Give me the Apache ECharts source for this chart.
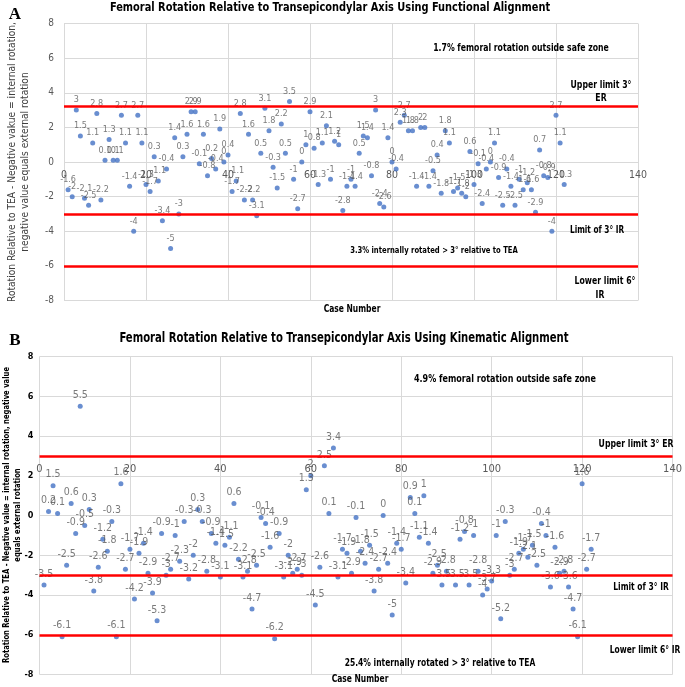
<!DOCTYPE html>
<html>
<head>
<meta charset="utf-8">
<script src="https://cdn.jsdelivr.net/npm/echarts@6/dist/echarts.min.js"></script>
<style>html,body{margin:0;padding:0;background:#fff}#c{width:685px;height:687px}</style>
</head>
<body>
<div id="c"></div>
<script>
// ---------- Data: Panel A (Functional Alignment) ----------
const casesA = [1,2,3,4,5,6,7,8,9,10,11,12,13,14,15,16,17,18,19,20,21,22,23,24,25,26,27,28,29,30,31,32,33,34,35,36,37,38,39,40,41,42,43,44,45,46,47,48,49,50,51,52,53,54,55,56,57,58,59,60,61,62,63,64,65,66,67,68,69,70,71,72,73,74,75,76,77,78,79,80,81,82,83,84,85,86,87,88,89,90,91,92,93,94,95,96,97,98,99,100,101,102,103,104,105,106,107,108,109,110,111,112,113,114,115,116,117,118,119,120,121,122];
const rotationA = [-1.6,-2,3,1.5,-2.1,-2.5,1.1,2.8,-2.2,0.1,1.3,0.1,0.1,2.7,1.1,-1.4,-4,2.7,1.1,-1.3,-1.7,0.3,-1.1,-3.4,-0.4,-5,1.4,-3,0.3,1.6,2.9,2.9,-0.1,1.6,-0.8,0.2,-0.4,1.9,0,0.4,-1.7,-1.1,2.8,-2.2,1.6,-2.2,-3.1,0.5,3.1,1.8,-0.3,-1.5,2.2,0.5,3.5,-1,-2.7,0,1,2.9,0.8,-1.3,1.1,2.1,-1,1.2,1,-2.8,-1.4,-1,-1.4,0.5,1.5,1.4,-0.8,3,-2.4,-2.6,1.4,0,-0.4,2.3,2.7,1.8,1.8,-1.4,2,2,-1.4,-0.5,0.4,-1.8,1.8,1.1,-1.7,-1.5,-1.8,-2,0.6,-1.3,-0.1,-2.4,-0.4,0,1.1,-0.9,-2.5,-0.4,-1.4,-2.5,-1,-1.6,-1.2,-1.6,-2.9,0.7,-0.8,-0.9,-4,2.7,1.1,-1.3];
const limitsA = [3.2, -3, -6.05];

// ---------- Data: Panel B (Kinematic Alignment) ----------
const casesB = [1,2,3,4,5,6,7,8,9,10,11,12,13,14,15,16,17,18,19,20,21,22,23,24,25,26,27,28,29,30,31,32,33,34,35,36,37,38,39,40,41,42,43,44,45,46,47,48,49,50,51,52,53,54,55,56,57,58,59,60,61,62,63,64,65,66,67,68,69,70,71,72,73,74,75,76,77,78,79,80,81,82,83,84,85,86,87,88,89,90,92,93,94,95,96,97,98,99,100,101,102,103,104,105,106,107,108,109,110,111,112,113,114,115,116,117,118,119,120,121,122];
const rotationB = [-3.5,0.2,1.5,0.1,-6.1,-2.5,0.6,-0.9,5.5,-0.5,0.3,-3.8,-2.6,-1.2,-1.8,-0.3,-6.1,1.6,-2.7,-1.7,-4.2,-1.9,-1.4,-2.9,-3.9,-5.3,-0.9,-3,-2.7,-1,-2.3,-0.3,-3.2,-2,0.3,-0.3,-2.8,-0.9,-1.4,-3.1,-1.5,-1.1,0.6,-2.2,-3.1,-2.8,-4.7,-2.5,-0.1,-0.4,-1.6,-6.2,-0.9,-3.1,-2,-2.9,-2.7,-3,1.3,2,-4.5,-2.6,2.5,0.1,3.4,-3.1,-1.7,-1.9,-2.9,-0.1,-1.8,-2.4,-1.5,-3.8,-2.7,0,-2.4,-5,-1.4,-1.7,-3.4,0.9,0.1,-1.1,1,-1.4,-2.9,-2.5,-3.5,-2.8,-3.5,-1.2,-0.8,-3.5,-1,-2.8,-4,-3.7,-3.3,-1,-5.2,-0.3,-3,-2.7,-1.9,-1.7,-2.1,-1.5,-2.5,-0.4,-1,-3.6,-1.6,-2.9,-2.8,-3.6,-4.7,-6.1,1.6,-2.7,-1.7];
const limitsB = [3, -3, -6];

const xTicks = [0, 140, 20];   // min, max, interval
const yTicks = [-8, 8, 2];

// ---------- Layout ----------
const NARROW = "'Liberation Sans Narrow','DejaVu Sans Condensed',Arial,sans-serif";
const gA = {left: 64, top: 23.5, width: 574, height: 277};
const gB = {left: 39.5, top: 356.5, width: 637.5, height: 318};
const offA = -(0 - yTicks[0]) / (yTicks[1] - yTicks[0]) * gA.height;
const offB = -(3 - yTicks[0]) / (yTicks[1] - yTicks[0]) * gB.height;

function pairs(xs, ys) { return xs.map((x, i) => [x, ys[i]]); }

function xAxisCfg(idx, off, lblSize) {
  return {
    type: 'value', gridIndex: idx, min: xTicks[0], max: xTicks[1], interval: xTicks[2],
    position: 'bottom', offset: off,
    axisLine: {show: false, onZero: false}, axisTick: {show: false},
    axisLabel: {color: '#595959', fontFamily: NARROW, fontSize: lblSize, margin: 8},
    splitLine: {show: true, lineStyle: {color: '#d9d9d9', width: 1}}
  };
}
function yAxisCfg(idx, lbl) {
  return {
    type: 'value', gridIndex: idx, min: yTicks[0], max: yTicks[1], interval: yTicks[2],
    axisLine: {show: false}, axisTick: {show: false},
    axisLabel: lbl,
    splitLine: {show: true, lineStyle: {color: '#d9d9d9', width: 1}}
  };
}
function seriesCfg(idx, data, limits, lblSize) {
  return {
    type: 'scatter', xAxisIndex: idx, yAxisIndex: idx, data: data,
    symbol: 'circle', symbolSize: 5,
    itemStyle: {color: '#4472C4'},
    label: {show: true, position: 'top', distance: 3, color: '#595959',
            fontFamily: NARROW, fontSize: lblSize,
            formatter: p => String(p.value[1])},
    markLine: {
      silent: true, symbol: ['none', 'none'], animation: false,
      label: {show: false},
      lineStyle: {color: '#FF0000', width: 2.5, type: 'solid'},
      data: limits.map(v => ({yAxis: v}))
    },
    z: 3
  };
}

function txt(x, y, s, font, fill, sx, rot) {
  return {type: 'text', x: x, y: y, rotation: rot || 0, scaleX: sx || 1, z: 10,
    style: {text: s, font: font, fill: fill || '#000',
            align: 'center', verticalAlign: 'middle',
            textAlign: 'center', textVerticalAlign: 'middle'}};
}

const chart = echarts.init(document.getElementById('c'), null, {renderer: 'canvas'});
const B10 = 'bold 10.5px ' + NARROW;
chart.setOption({
  animation: false,
  grid: [
    Object.assign({containLabel: false}, gA),
    Object.assign({containLabel: false}, gB)
  ],
  xAxis: [xAxisCfg(0, offA, 10.5), xAxisCfg(1, offB, 11)],
  yAxis: [
    yAxisCfg(0, {color: '#595959', fontFamily: NARROW, fontSize: 10, margin: 10}),
    yAxisCfg(1, {color: '#000', fontFamily: NARROW, fontSize: 9, fontWeight: 'bold', margin: 6})
  ],
  series: [
    seriesCfg(0, pairs(casesA, rotationA), limitsA, 9),
    seriesCfg(1, pairs(casesB, rotationB), limitsB, 10.5)
  ],
  graphic: [
    txt(15, 15, 'A', 'bold 17px "Liberation Serif", serif', '#000'),
    txt(330, 8, 'Femoral Rotation Relative to Transepicondylar Axis Using Functional Alignment', 'bold 13px ' + NARROW, '#000', 0.84),
    txt(12, 162, 'Rotation Relative to TEA - Negative vakue = internal rotation,', '11px ' + NARROW, '#404040', 0.92, Math.PI / 2),
    txt(25, 162, 'negative value equals external rotation', '11px ' + NARROW, '#404040', 0.92, Math.PI / 2),
    txt(521, 48, '1.7% femoral rotation outside safe zone', B10, '#000', 0.82),
    txt(601, 85, 'Upper limit 3°', B10, '#000', 0.82),
    txt(601, 98, 'ER', B10, '#000', 0.82),
    txt(597, 230, 'Limit of 3° IR', B10, '#000', 0.78),
    txt(434, 251, '3.3% internally rotated > 3° relative to TEA', 'bold 9.5px ' + NARROW, '#000', 0.8),
    txt(605, 281, 'Lower limit 6°', B10, '#000', 0.82),
    txt(600, 295, 'IR', B10, '#000', 0.82),
    txt(352, 309, 'Case Number', B10, '#000', 0.8),

    txt(15, 341, 'B', 'bold 17px "Liberation Serif", serif', '#000'),
    txt(344, 338, 'Femoral Rotation Relative to Transepicondylar Axis Using Kinematic Alignment', 'bold 13.5px ' + NARROW, '#000', 0.83),
    txt(7, 515, 'Rotation Relative to TEA - Negative value = internal rotation, negative value', 'bold 9.5px ' + NARROW, '#000', 0.8, Math.PI / 2),
    txt(18, 515, 'equals external rotation', 'bold 9.5px ' + NARROW, '#000', 0.8, Math.PI / 2),
    txt(505, 379, '4.9% femoral rotation outside safe zone', B10, '#000', 0.85),
    txt(636, 444, 'Upper limit 3° ER', B10, '#000', 0.82),
    txt(641, 587, 'Limit of 3° IR', B10, '#000', 0.8),
    txt(645, 650, 'Lower limit 6° IR', B10, '#000', 0.8),
    txt(440, 663, '25.4% internally rotated > 3° relative to TEA', B10, '#000', 0.8),
    txt(360, 679, 'Case Number', B10, '#000', 0.8)
  ]
});
</script>
</body>
</html>
